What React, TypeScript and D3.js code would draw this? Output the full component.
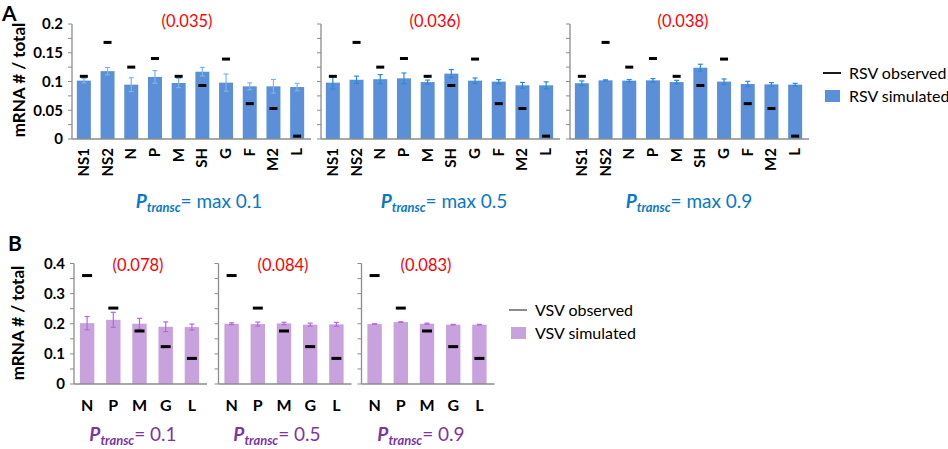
import * as React from "react";
import { scaleBand, scaleLinear, range } from "d3";

// panel A: RSV genes
const rsvGenes = ["NS1", "NS2", "N", "P", "M", "SH", "G", "F", "M2", "L"];
const rsvObserved = [0.109, 0.168, 0.125, 0.14, 0.109, 0.093, 0.139, 0.0615, 0.053, 0.005];
const rsvSimMax01 = [0.1015, 0.118, 0.0945, 0.108, 0.0974, 0.117, 0.098, 0.0916, 0.0916, 0.0904];
const rsvErrMax01 = [0.004, 0.0064, 0.012, 0.011, 0.008, 0.0075, 0.015, 0.006, 0.012, 0.0064];
const rsvSimMax05 = [0.098, 0.103, 0.104, 0.1055, 0.099, 0.1137, 0.1015, 0.0998, 0.0934, 0.0934];
const rsvErrMax05 = [0.011, 0.0064, 0.008, 0.0093, 0.0035, 0.007, 0.0046, 0.0035, 0.005, 0.006];
const rsvSimMax09 = [0.097, 0.102, 0.1015, 0.102, 0.099, 0.124, 0.0998, 0.0957, 0.095, 0.0945];
const rsvErrMax09 = [0.004, 0.001, 0.002, 0.003, 0.003, 0.006, 0.0046, 0.0046, 0.003, 0.0023];
const rsvScores = ["(0.035)", "(0.036)", "(0.038)"];
const rsvPtransc = ["= max 0.1", "= max 0.5", "= max 0.9"];
const rsvTicks = [0, 0.05, 0.1, 0.15, 0.2];
const rsvTickLabels = ["0", "0.05", "0.1", "0.15", "0.2"];

// panel B: VSV genes
const vsvGenes = ["N", "P", "M", "G", "L"];
const vsvObserved = [0.36, 0.252, 0.176, 0.124, 0.085];
const vsvSim01 = [0.202, 0.213, 0.2, 0.19, 0.189];
const vsvErr01 = [0.022, 0.025, 0.018, 0.016, 0.01];
const vsvSim05 = [0.2, 0.199, 0.201, 0.197, 0.198];
const vsvErr05 = [0.003, 0.0066, 0.004, 0.005, 0.0066];
const vsvSim09 = [0.199, 0.2055, 0.2, 0.197, 0.197];
const vsvErr09 = [0.001, 0.001, 0.002, 0.001, 0.001];
const vsvScores = ["(0.078)", "(0.084)", "(0.083)"];
const vsvPtransc = ["= 0.1", "= 0.5", "= 0.9"];
const vsvTicks = [0, 0.1, 0.2, 0.3, 0.4];
const vsvTickLabels = ["0", "0.1", "0.2", "0.3", "0.4"];

const FONT = "Lato, 'Open Sans', sans-serif";
const AXIS = "#8c8c8c";
const RSV_BAR = "#5b8fd7";
const RSV_ERR = ["#7fb4e6", "#2b8ad6", "#2b8ad6"];
const VSV_BAR = "#c8a2dc";
const VSV_ERR = "#b26ad8";
const RED = "#ff0000";
const BLUE_TXT = "#0a78c8";
const PURPLE_TXT = "#7a35a8";

interface SubplotProps {
  x0: number;
  width: number;
  genes: string[];
  sim: number[];
  err: number[];
  observed: number[];
  y: any;
  ticks: number[];
  minorStep: number;
  tickLabels?: string[];
  barColor: string;
  errColor: string;
  padding: number;
  dashW: number;
  rotateLabels: boolean;
}

const Subplot = ({
  x0, width, genes, sim, err, observed, y, ticks, minorStep, tickLabels,
  barColor, errColor, padding, dashW, rotateLabels,
}: SubplotProps) => {
  const x = scaleBand<string>().domain(genes).range([x0, x0 + width]).paddingInner(padding).paddingOuter(padding / 2);
  const [d0, d1] = y.domain();
  const minor = range(d0, d1 + minorStep / 2, minorStep);
  const base = y(0);
  return (
    <g>
      {genes.map((g, i) => {
        const cx = (x(g) as number) + x.bandwidth() / 2;
        return (
          <g key={g}>
            <rect x={x(g)} y={y(sim[i])} width={x.bandwidth()} height={base - y(sim[i])} fill={barColor} />
            <line x1={cx} x2={cx} y1={y(sim[i] - err[i])} y2={y(sim[i] + err[i])} stroke={errColor} strokeWidth={1.2} />
            <line x1={cx - 2.5} x2={cx + 2.5} y1={y(sim[i] + err[i])} y2={y(sim[i] + err[i])} stroke={errColor} strokeWidth={1.2} />
            <line x1={cx - 2.5} x2={cx + 2.5} y1={y(sim[i] - err[i])} y2={y(sim[i] - err[i])} stroke={errColor} strokeWidth={1.2} />
            <line x1={cx - dashW / 2} x2={cx + dashW / 2} y1={y(observed[i])} y2={y(observed[i])} stroke="#000" strokeWidth={3} />
            {rotateLabels ? (
              <text transform={`translate(${cx + 5},${base + 9}) rotate(-90)`} textAnchor="end" fontFamily={FONT} fontWeight="bold" fontSize={15}>{g}</text>
            ) : (
              <text x={cx} y={base + 27} textAnchor="middle" fontFamily={FONT} fontWeight="bold" fontSize={16}>{g}</text>
            )}
          </g>
        );
      })}
      <line x1={x0} x2={x0} y1={y(d1)} y2={base} stroke={AXIS} strokeWidth={1.3} />
      <line x1={x0} x2={x0 + width + 2} y1={base} y2={base} stroke={AXIS} strokeWidth={1.3} />
      {minor.map((t) => (
        <line key={t} x1={x0 - 4} x2={x0} y1={y(t)} y2={y(t)} stroke={AXIS} strokeWidth={1} />
      ))}
      {tickLabels &&
        ticks.map((t, i) => (
          <text key={t} x={x0 - 9} y={y(t)} dy="0.35em" textAnchor="end" fontFamily={FONT} fontWeight="bold" fontSize={15}>
            {tickLabels[i]}
          </text>
        ))}
    </g>
  );
};

const Ptransc = ({ cx, y, color, rest, size }: { cx: number; y: number; color: string; rest: string; size: number }) => (
  <text x={cx} y={y} textAnchor="middle" fontFamily={FONT} fill={color} fontSize={size}>
    <tspan fontWeight="bold" fontStyle="italic">P</tspan>
    <tspan fontWeight="bold" fontStyle="italic" fontSize={size * 0.68} dy={4}>transc</tspan>
    <tspan dy={-4}>{rest}</tspan>
  </text>
);

const App = () => {
  const yA = scaleLinear().domain([0, 0.2]).range([139, 24]);
  const yB = scaleLinear().domain([0, 0.4]).range([384, 263.5]);
  const aX = [72, 321, 570];
  const aW = 237;
  const aSims = [rsvSimMax01, rsvSimMax05, rsvSimMax09];
  const aErrs = [rsvErrMax01, rsvErrMax05, rsvErrMax09];
  const aScoreX = [187, 435, 683];
  const aSubX = [199, 444, 689];
  const bX = [74, 218.5, 361.5];
  const bW = 131;
  const bSims = [vsvSim01, vsvSim05, vsvSim09];
  const bErrs = [vsvErr01, vsvErr05, vsvErr09];
  const bScoreX = [138, 283, 426];
  const bSubX = [133, 277, 421];

  return (
    <svg width={948} height={449} style={{ position: "absolute", left: 0, top: 0, background: "#fff" }}>
      <text x={2} y={21} fontFamily={FONT} fontWeight="bold" fontSize={21}>A</text>
      <text x={8} y={251} fontFamily={FONT} fontWeight="bold" fontSize={21}>B</text>

      <text transform="translate(25,80) rotate(-90)" textAnchor="middle" fontFamily={FONT} fontWeight="bold" fontSize={17}>mRNA # / total</text>
      <text transform="translate(24,323) rotate(-90)" textAnchor="middle" fontFamily={FONT} fontWeight="bold" fontSize={17}>mRNA # / total</text>

      {aX.map((x0, k) => (
        <g key={`a${k}`}>
          <Subplot
            x0={x0} width={aW} genes={rsvGenes} sim={aSims[k]} err={aErrs[k]} observed={rsvObserved}
            y={yA} ticks={rsvTicks} minorStep={0.025} tickLabels={k === 0 ? rsvTickLabels : undefined}
            barColor={RSV_BAR} errColor={RSV_ERR[k]} padding={0.41} dashW={8} rotateLabels
          />
          <text x={aScoreX[k]} y={27} textAnchor="middle" fontFamily={FONT} fontSize={16.5} fill={RED}>{rsvScores[k]}</text>
          <Ptransc cx={aSubX[k]} y={208} color={BLUE_TXT} rest={rsvPtransc[k]} size={19} />
        </g>
      ))}

      {bX.map((x0, k) => (
        <g key={`b${k}`}>
          <Subplot
            x0={x0} width={bW} genes={vsvGenes} sim={bSims[k]} err={bErrs[k]} observed={vsvObserved}
            y={yB} ticks={vsvTicks} minorStep={0.05} tickLabels={k === 0 ? vsvTickLabels : undefined}
            barColor={VSV_BAR} errColor={VSV_ERR} padding={0.45} dashW={10} rotateLabels={false}
          />
          <text x={bScoreX[k]} y={271} textAnchor="middle" fontFamily={FONT} fontSize={16.5} fill={RED}>{vsvScores[k]}</text>
          <Ptransc cx={bSubX[k]} y={441} color={PURPLE_TXT} rest={vsvPtransc[k]} size={19} />
        </g>
      ))}

      {/* legend A */}
      <line x1={823} x2={841} y1={73} y2={73} stroke="#000" strokeWidth={1.8} />
      <text x={849} y={73} dy="0.35em" fontFamily={FONT} fontSize={16}>RSV observed</text>
      <rect x={825} y={90} width={15} height={12} fill={RSV_BAR} />
      <text x={849} y={96} dy="0.35em" fontFamily={FONT} fontSize={16}>RSV simulated</text>

      {/* legend B */}
      <line x1={509} x2={527} y1={310} y2={310} stroke="#7f7f7f" strokeWidth={1.8} />
      <text x={535} y={310} dy="0.35em" fontFamily={FONT} fontSize={16}>VSV observed</text>
      <rect x={511} y={327} width={15} height={12} fill={VSV_BAR} />
      <text x={535} y={333} dy="0.35em" fontFamily={FONT} fontSize={16}>VSV simulated</text>
    </svg>
  );
};

export default App;
